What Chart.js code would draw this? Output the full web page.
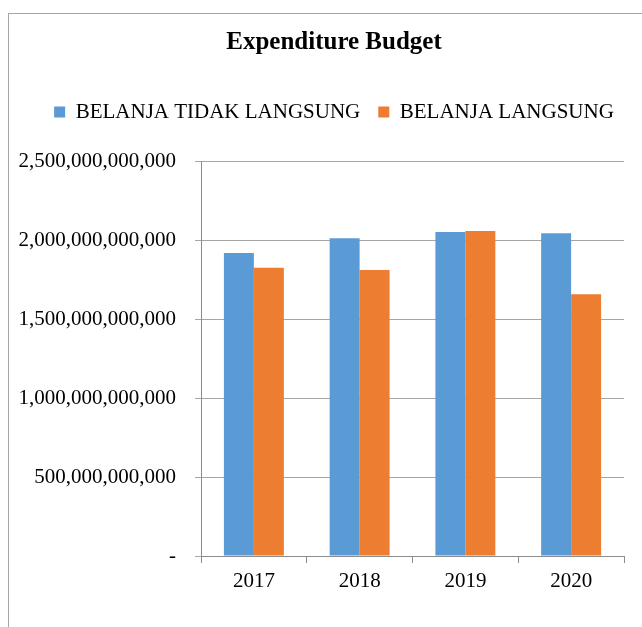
<!DOCTYPE html>
<html>
<head>
<meta charset="utf-8">
<script src="https://cdn.jsdelivr.net/npm/chart.js@4"></script>
<style>
  body { margin: 0; background: #fff; overflow: hidden; }
  .frame {
    position: absolute; left: 8px; top: 13px; width: 650px; height: 640px;
    border-left: 1px solid #a6a6a6; border-top: 1px solid #a6a6a6;
  }
  canvas { position: absolute; left: 0; top: 0; }
</style>
</head>
<body>
<div class="frame"><canvas id="budgetChart" width="650" height="614"></canvas></div>
<script>
const years = ['2017', '2018', '2019', '2020'];
const belanjaTidakLangsung = [1918e9, 2011e9, 2051e9, 2042e9];
const belanjaLangsung = [1825e9, 1810e9, 2057e9, 1656e9];

const serif = "'Liberation Serif', 'Times New Roman', serif";
Chart.defaults.font.family = serif;
Chart.defaults.color = '#000';

// push the plot area down below the legend
const legendGap = {
    id: 'legendGap',
    beforeInit(chart) {
        const fit = chart.legend.fit;
        chart.legend.fit = function () {
            fit.bind(chart.legend)();
            this.height += 28.5;
        };
    }
};

const ctx = document.getElementById('budgetChart').getContext('2d');
new Chart(ctx, {
    type: 'bar',
    data: {
        labels: years,
        datasets: [{
            label: 'BELANJA TIDAK LANGSUNG',
            data: belanjaTidakLangsung,
            backgroundColor: '#5B9BD5'
        }, {
            label: 'BELANJA LANGSUNG',
            data: belanjaLangsung,
            backgroundColor: '#ED7D31'
        }]
    },
    options: {
        responsive: false,
        animation: false,
        layout: { padding: 0 },
        datasets: {
            bar: { barPercentage: 1, categoryPercentage: 0.567 }
        },
        plugins: {
            title: {
                display: true,
                text: 'Expenditure Budget',
                color: '#000',
                font: { family: serif, size: 25, weight: 'bold' },
                padding: { top: 14, bottom: 25.5 }
            },
            legend: {
                labels: {
                    color: '#000',
                    font: { family: serif, size: 21 },
                    boxWidth: 11,
                    boxHeight: 11,
                    padding: 18
                }
            },
            tooltip: { enabled: false }
        },
        scales: {
            x: {
                afterFit(scale) { scale.height = 72; },
                grid: {
                    drawOnChartArea: false,
                    tickLength: 7,
                    color: '#8c8c8c'
                },
                border: { color: '#8c8c8c' },
                ticks: {
                    color: '#000',
                    font: { family: serif, size: 21 },
                    padding: 6
                }
            },
            y: {
                min: 0,
                max: 2500e9,
                afterFit(scale) { scale.width = 192; },
                grid: {
                    color: '#a6a6a6',
                    tickLength: 6
                },
                border: { color: '#8c8c8c' },
                ticks: {
                    stepSize: 500e9,
                    color: '#000',
                    padding: 19,
                    font: { family: serif, size: 21 },
                    callback: v => v === 0 ? '-' : v.toLocaleString('en-US')
                }
            },
            // empty strip on the right so the plot ends before the frame edge
            spacer: {
                type: 'linear',
                position: 'right',
                afterFit(scale) { scale.width = 35; },
                grid: { display: false },
                border: { display: false },
                ticks: { display: false }
            }
        }
    },
    plugins: [legendGap]
});
</script>
</body>
</html>
